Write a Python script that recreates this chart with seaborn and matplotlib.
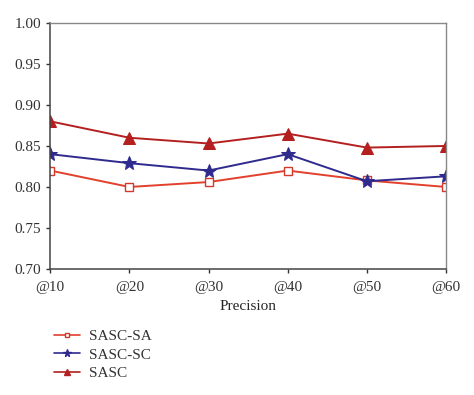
import matplotlib
matplotlib.use("Agg")
import matplotlib.pyplot as plt
from matplotlib.lines import Line2D
import seaborn as sns
import pandas as pd

# values
cutoffs = ["@10", "@20", "@30", "@40", "@50", "@60"]
sasc_sa = [0.820, 0.800, 0.806, 0.820, 0.808, 0.800]
sasc_sc = [0.840, 0.829, 0.820, 0.840, 0.807, 0.813]
sasc = [0.880, 0.860, 0.853, 0.865, 0.848, 0.850]

sns.set_style("white")
plt.rcParams['font.family'] = ['Liberation Serif', 'DejaVu Serif']

fig = plt.figure(figsize=(4.74, 3.95), dpi=100)
ax = fig.add_axes([0.106, 0.319, 0.835, 0.623])

df = pd.DataFrame({"Precision": list(range(len(cutoffs))) * 3,
                   "value": sasc_sa + sasc_sc + sasc,
                   "method": ["SASC-SA"] * 6 + ["SASC-SC"] * 6 + ["SASC"] * 6})

styles = {
    "SASC-SA": dict(color="#e2402c", marker="s", markersize=6,
                    markerfacecolor="white", markeredgecolor="#d0392b", markeredgewidth=1.0),
    "SASC-SC": dict(color="#2f2a8e", marker="*", markersize=10,
                    markerfacecolor="#2f2a8e", markeredgecolor="#2f2a8e"),
    "SASC": dict(color="#b3201f", marker="^", markersize=9,
                 markerfacecolor="#b3201f", markeredgecolor="#b3201f"),
}

for name in ["SASC-SA", "SASC-SC", "SASC"]:
    sub = df[df["method"] == name]
    sns.lineplot(data=sub, x="Precision", y="value", ax=ax, legend=False,
                 linewidth=1.4, **styles[name])

ax.set_xlim(0, len(cutoffs) - 1)
ax.set_ylim(0.70, 1.00)
ax.set_xticks(range(len(cutoffs)))
ax.set_xticklabels(cutoffs)
ax.set_yticks([0.70, 0.75, 0.80, 0.85, 0.90, 0.95, 1.00])
ax.set_yticklabels(["0.70", "0.75", "0.80", "0.85", "0.90", "0.95", "1.00"])
ax.set_xlabel("Precision", fontsize=11, labelpad=4)
ax.set_ylabel("")
ax.tick_params(axis="both", direction="out", length=3, width=1, colors="#333333",
               labelsize=11, labelcolor="#333333", left=True, bottom=True)
ax.tick_params(axis="x", pad=6)

for s in ["left", "bottom"]:
    ax.spines[s].set_color("#444444")
    ax.spines[s].set_linewidth(1.1)
for s in ["top", "right"]:
    ax.spines[s].set_color("#888888")
    ax.spines[s].set_linewidth(1.0)

# small legend markers, like the original
handles = []
for name in ["SASC-SA", "SASC-SC", "SASC"]:
    st = dict(styles[name])
    st["markersize"] = st["markersize"] * 0.55
    handles.append(Line2D([], [], linewidth=1.2, **st))
fig.legend(handles, ["SASC-SA", "SASC-SC", "SASC"], loc="upper left",
           bbox_to_anchor=(0.085, 0.2), frameon=False, fontsize=11,
           handlelength=1.7, handletextpad=0.6, labelspacing=0.3,
           labelcolor="#333333")

fig.savefig("out.png", dpi=100)
